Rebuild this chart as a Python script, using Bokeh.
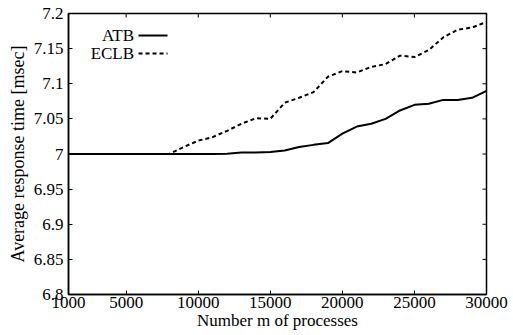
from bokeh.plotting import figure
from bokeh.models import (FixedTicker, CustomJSTickFormatter, Range1d, Label, Arrow)
from bokeh.embed import file_html
from bokeh.resources import INLINE

processes = [1000, 2000, 3000, 4000, 5000, 6000, 7000, 8000, 9000, 10000,
             11000, 12000, 13000, 14000, 15000, 16000, 17000, 18000, 19000, 20000,
             21000, 22000, 23000, 24000, 25000, 26000, 27000, 28000, 29000, 30000]
atb = [7.0, 7.0, 7.0, 7.0, 7.0, 7.0, 7.0, 7.0, 7.0, 7.0,
       7.0, 7.0005, 7.002, 7.002, 7.003, 7.005, 7.010, 7.013, 7.0155, 7.029,
       7.039, 7.043, 7.050, 7.062, 7.070, 7.0715, 7.077, 7.077, 7.080, 7.090]
eclb = [7.0, 7.0, 7.0, 7.0, 7.0, 7.0, 7.0, 7.0, 7.010, 7.019,
        7.024, 7.033, 7.043, 7.051, 7.050, 7.073, 7.080, 7.088, 7.110, 7.118,
        7.116, 7.124, 7.128, 7.140, 7.138, 7.148, 7.166, 7.177, 7.180, 7.188]
x_ticks = [1000, 5000, 10000, 15000, 20000, 25000, 30000]
y_ticks = [6.8, 6.85, 6.9, 6.95, 7.0, 7.05, 7.1, 7.15, 7.2]
series_names = ["ATB", "ECLB"]
x_title = "Number m of processes"
y_title = "Average response time [msec]"

FONT = "Liberation Serif"
FS = "17px"
X0, X1, Y0, Y1 = 1000, 30000, 6.8, 7.2

p = figure(width=513, height=335, output_backend="svg", toolbar_location=None,
           x_range=Range1d(X0, X1), y_range=Range1d(Y0, Y1),
           min_border_left=68, min_border_right=27, min_border_top=13, min_border_bottom=41)
p.grid.visible = False
p.outline_line_color = "black"
p.outline_line_width = 1.5
p.background_fill_color = "white"
p.border_fill_color = "white"

p.line(processes, atb, line_color="black", line_width=2)
p.line(processes, eclb, line_color="black", line_width=2, line_dash="4 3")

fmt = CustomJSTickFormatter(code="return tick.toFixed(2).replace(/0+$/,'').replace(/\\.$/,'');")

for ax in p.xaxis:
    ax.ticker = FixedTicker(ticks=x_ticks)
    ax.axis_label = x_title
for ax in p.yaxis:
    ax.ticker = FixedTicker(ticks=y_ticks)
    ax.formatter = fmt
    ax.axis_label = y_title

for ax in p.xaxis + p.yaxis:
    ax.major_tick_in = 4
    ax.major_tick_out = 0
    ax.minor_tick_line_color = None
    ax.axis_line_width = 1.5
    ax.major_tick_line_width = 1
    ax.major_label_text_font = FONT
    ax.major_label_text_font_size = FS
    ax.major_label_text_color = "black"
    ax.axis_label_text_font = FONT
    ax.axis_label_text_font_size = FS
    ax.axis_label_text_font_style = "normal"
    ax.axis_label_text_color = "black"
p.xaxis.axis_label_standoff = 0
p.xaxis.major_label_standoff = 2
p.yaxis.axis_label_text_font_size = "18px"
p.yaxis.axis_label_standoff = 3
p.yaxis.major_label_standoff = 5

# mirrored inward ticks on the top and right edges
tick_len_x = 4 * (X1 - X0) / 418
tick_len_y = 4 * (Y1 - Y0) / 281
p.segment(x0=x_ticks, y0=[Y1] * len(x_ticks), x1=x_ticks, y1=[Y1 - tick_len_y] * len(x_ticks),
          line_color="black", line_width=1)
p.segment(x0=[X1] * len(y_ticks), y0=y_ticks, x1=[X1 - tick_len_x] * len(y_ticks), y1=y_ticks,
          line_color="black", line_width=1)

# legend (text right-aligned, sample line to its right)
leg_y = [7.1687, 7.143]
leg_dash = ["solid", "4 3"]
for name, yy, dash in zip(series_names, leg_y, leg_dash):
    p.add_layout(Label(x=5550, y=yy, text=name, text_align="right", text_baseline="middle",
                       text_font=FONT, text_font_size=FS, text_color="black"))
    p.add_layout(Arrow(end=None, x_start=5858, y_start=yy, x_end=7870, y_end=yy,
                       line_color="black", line_width=2, line_dash=dash))

open("out.html", "w").write(file_html(p, INLINE))
